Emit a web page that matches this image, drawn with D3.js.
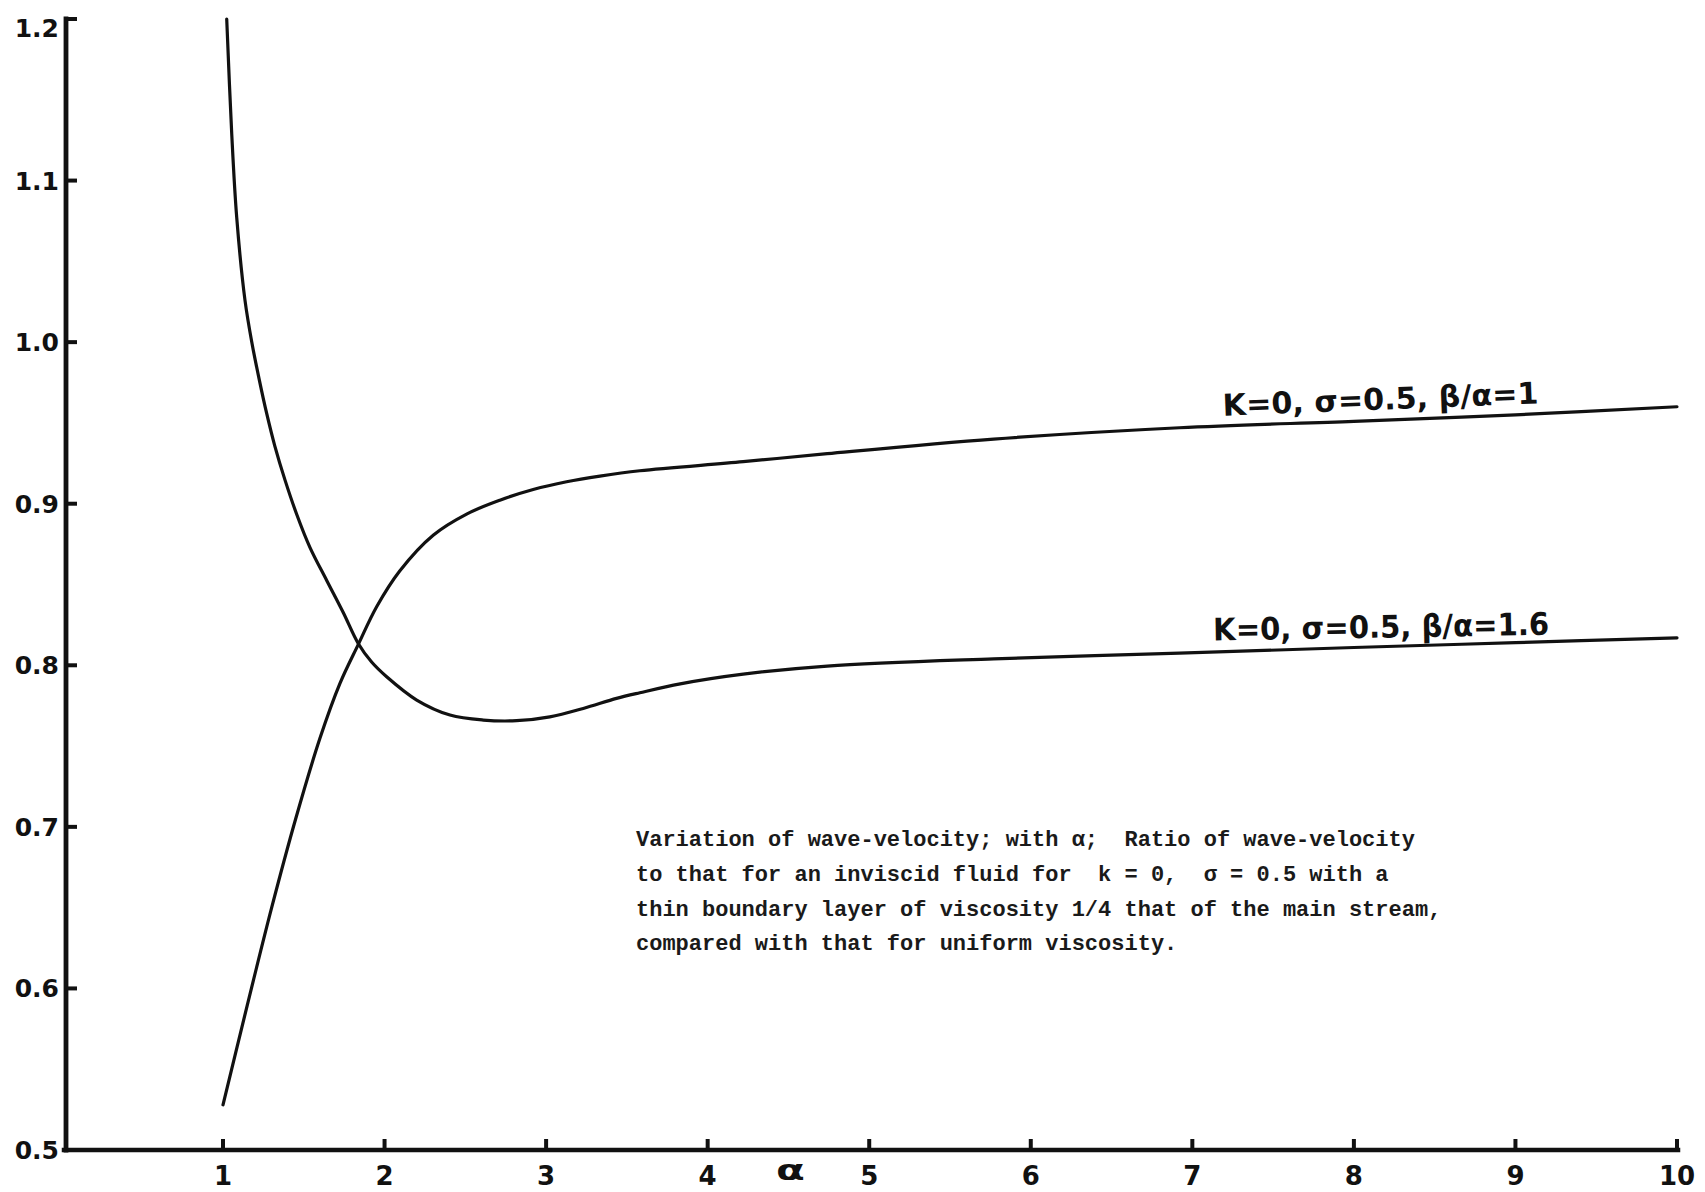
<!DOCTYPE html>
<html>
<head>
<meta charset="utf-8">
<script src="https://cdn.jsdelivr.net/npm/d3@7"></script>
<style>
  html, body { margin: 0; padding: 0; background: #ffffff; }
  svg { display: block; }
</style>
</head>
<body>
<svg id="chart" width="1705" height="1192"></svg>
<script>
// ---- data ----
const xTicks = [1, 2, 3, 4, 5, 6, 7, 8, 9, 10];
const yTicks = [0.5, 0.6, 0.7, 0.8, 0.9, 1.0, 1.1, 1.2];

// curve beta/alpha = 1 (rising)
const alphaB1 = [1.0, 1.15, 1.30, 1.45, 1.60, 1.724, 1.837, 1.951, 2.095, 2.301, 2.508, 2.714, 2.92, 3.127, 3.333, 3.58, 4.22, 4.74, 5.77, 6.92, 8.0, 9.0, 10.0];
const ratioB1 = [0.528, 0.5895, 0.6495, 0.705, 0.7548, 0.7888, 0.8128, 0.8362, 0.8585, 0.8805, 0.8936, 0.9022, 0.9088, 0.9136, 0.9171, 0.9204, 0.926, 0.931, 0.940, 0.947, 0.951, 0.955, 0.960];

// curve beta/alpha = 1.6 (falling, dip, then rising)
const alphaB16 = [1.023, 1.054, 1.085, 1.136, 1.18, 1.225, 1.27, 1.32, 1.384, 1.456, 1.538, 1.642, 1.745, 1.837, 1.92, 2.013, 2.199, 2.405, 2.611, 2.817, 3.023, 3.23, 3.436, 3.58, 3.83, 4.22, 4.74, 5.77, 6.92, 8.0, 9.0, 10.0];
const ratioB16 = [1.200, 1.129, 1.077, 1.026, 0.999, 0.9765, 0.956, 0.936, 0.9146, 0.8935, 0.873, 0.8525, 0.8325, 0.8135, 0.802, 0.7929, 0.7785, 0.7692, 0.7661, 0.7657, 0.7681, 0.7733, 0.7795, 0.783, 0.7885, 0.7945, 0.7995, 0.804, 0.8075, 0.811, 0.814, 0.817];

const labelB1 = "K=0, σ=0.5, β/α=1";
const labelB16 = "K=0, σ=0.5, β/α=1.6";
const xAxisTitle = "α";
const noteLines = [
  "Variation of wave-velocity; with α;  Ratio of wave-velocity",
  "to that for an inviscid fluid for  k = 0,  σ = 0.5 with a",
  "thin boundary layer of viscosity 1/4 that of the main stream,",
  "compared with that for uniform viscosity."
];

// ---- layout ----
const svg = d3.select("#chart");
const axisX0 = 66;          // y-axis position
const axisY0 = 1150;        // x-axis position
const x = d3.scaleLinear().domain([1, 10]).range([223, 1677]);
const y = d3.scaleLinear().domain([0.5, 1.2]).range([1150, 19]);
const ink = "#111";

// x axis
const gx = svg.append("g").attr("transform", `translate(0,${axisY0})`);
gx.append("line")
  .attr("x1", axisX0 - 2).attr("x2", x(10) + 1)
  .attr("y1", 0).attr("y2", 0)
  .attr("stroke", ink).attr("stroke-width", 4.5).attr("stroke-linecap", "square");
gx.selectAll("line.tick").data(xTicks).join("line")
  .attr("class", "tick")
  .attr("x1", d => x(d)).attr("x2", d => x(d))
  .attr("y1", 0).attr("y2", -11)
  .attr("stroke", ink).attr("stroke-width", 4);
gx.selectAll("text").data(xTicks).join("text")
  .attr("x", d => x(d)).attr("y", 35)
  .attr("text-anchor", "middle")
  .attr("font-family", "DejaVu Sans, sans-serif")
  .attr("font-weight", "bold")
  .attr("font-size", 26)
  .attr("fill", ink)
  .text(d => d);
svg.append("text")
  .attr("transform", `translate(${(x(4) + x(5)) / 2 + 2},${axisY0 + 30}) scale(1.5,1)`)
  .attr("text-anchor", "middle")
  .attr("font-family", "DejaVu Sans, sans-serif")
  .attr("font-weight", "bold")
  .attr("font-size", 28)
  .attr("fill", ink)
  .text(xAxisTitle);

// y axis
const gy = svg.append("g").attr("transform", `translate(${axisX0},0)`);
gy.append("line")
  .attr("x1", 0).attr("x2", 0)
  .attr("y1", y(1.2)).attr("y2", axisY0)
  .attr("stroke", ink).attr("stroke-width", 4.8).attr("stroke-linecap", "square");
gy.selectAll("line.tick").data(yTicks).join("line")
  .attr("class", "tick")
  .attr("x1", 0).attr("x2", 11)
  .attr("y1", d => y(d)).attr("y2", d => y(d))
  .attr("stroke", ink).attr("stroke-width", 4);
gy.selectAll("text").data(yTicks).join("text")
  .attr("x", -7).attr("y", d => y(d))
  .attr("dy", d => d === 1.2 ? "0.72em" : "0.36em")
  .attr("text-anchor", "end")
  .attr("font-family", "DejaVu Sans, sans-serif")
  .attr("font-weight", "bold")
  .attr("font-size", 25)
  .attr("fill", ink)
  .text(d => d3.format(".1f")(d));

// curves
const line = d3.line().x(d => x(d[0])).y(d => y(d[1])).curve(d3.curveCatmullRom.alpha(0.5));
const seriesB1 = alphaB1.map((a, i) => [a, ratioB1[i]]);
const seriesB16 = alphaB16.map((a, i) => [a, ratioB16[i]]);
[seriesB1, seriesB16].forEach(s => {
  svg.append("path")
    .datum(s)
    .attr("d", line)
    .attr("fill", "none")
    .attr("stroke", ink)
    .attr("stroke-width", 3.2)
    .attr("stroke-linecap", "round")
    .attr("stroke-linejoin", "round");
});

// curve labels
function curveLabel(txt, ax, av, len, angle, size) {
  svg.append("text")
    .attr("transform", `translate(${x(ax)},${y(av)}) rotate(${angle})`)
    .attr("font-family", "DejaVu Sans, sans-serif")
    .attr("font-size", size)
    .attr("font-weight", "bold")
    .attr("fill", ink)
    .attr("textLength", len)
    .attr("lengthAdjust", "spacingAndGlyphs")
    .text(txt);
}
curveLabel(labelB1, 7.19, 0.9545, 316, -2.2, 30);
curveLabel(labelB16, 7.13, 0.8153, 336, -1.0, 31);

// caption note
const note = svg.append("text")
  .attr("font-family", "Liberation Mono, Courier New, monospace")
  .attr("font-size", 22)
  .attr("font-weight", "bold")
  .attr("fill", "#1a1a1a");
noteLines.forEach((t, i) => {
  note.append("tspan")
    .attr("x", 636)
    .attr("y", 846 + i * 34.8)
    .text(t);
});
note.style("white-space", "pre");
</script>
</body>
</html>
